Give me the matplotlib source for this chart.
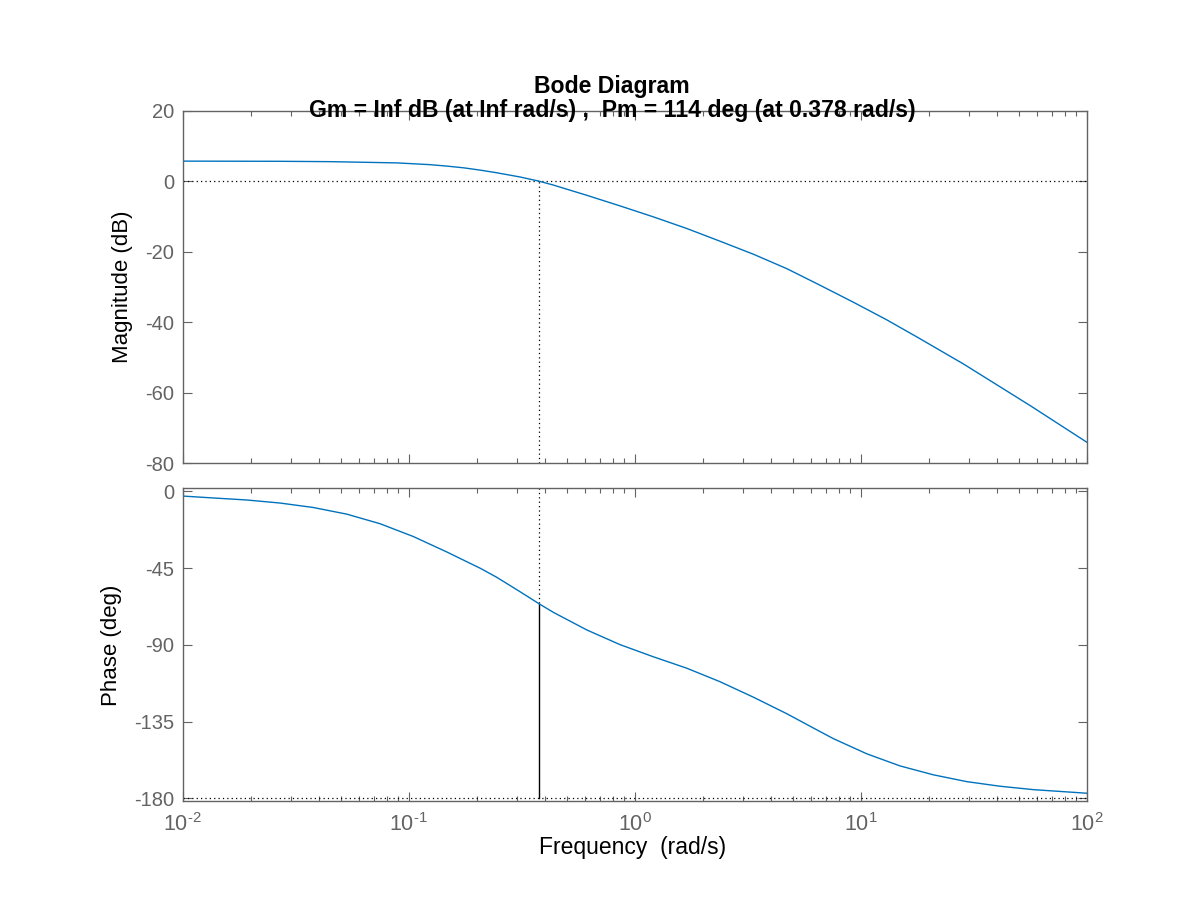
import matplotlib
matplotlib.use('Agg')
import matplotlib.pyplot as plt
from matplotlib.ticker import LogLocator, NullFormatter, FixedLocator

plt.rcParams['font.family'] = ['Liberation Sans', 'DejaVu Sans']
plt.rcParams['mathtext.default'] = 'regular'
plt.rcParams['axes.unicode_minus'] = False

BLUE = '#0072BD'
AXC = '#636363'

# magnitude curve (rad/s, dB)
mag_w = [0.01, 0.027, 0.045, 0.0885, 0.124, 0.147, 0.175, 0.207, 0.245,
         0.311, 0.378, 0.437, 0.614, 0.861, 1.208, 1.698, 2.382, 3.350,
         4.710, 6.607, 9.268, 13.03, 17.99, 28.44, 56.1, 100.0]
mag_db = [5.7, 5.65, 5.55, 5.2, 4.7, 4.3, 3.8, 3.15, 2.4,
          1.2, 0.0, -1.1, -4.0, -7.0, -10.1, -13.4, -17.0, -20.7,
          -24.8, -29.5, -34.3, -39.3, -44.4, -51.8, -63.6, -74.0]

# phase curve (rad/s, deg)
ph_w = [0.01, 0.0136, 0.0192, 0.027, 0.0378, 0.0532, 0.0746, 0.1047, 0.147,
        0.207, 0.245, 0.311, 0.378, 0.437, 0.614, 0.861, 1.208, 1.698,
        2.382, 3.350, 4.710, 6.281, 7.568, 10.64, 14.93, 20.94, 29.44,
        41.30, 58.08, 100.0]
ph_deg = [-2.8, -3.9, -5.1, -6.9, -9.5, -13.4, -19.0, -26.5, -35.5,
          -45.1, -50.4, -58.9, -66.0, -71.0, -81.3, -89.9, -97.0, -103.7,
          -111.6, -120.7, -130.4, -139.3, -145.0, -153.9, -161.0, -166.2, -170.2,
          -172.9, -174.9, -177.0]

wc = 0.378
pm_phase = -66.0
mag_ticks = [-80, -60, -40, -20, 0, 20]
ph_ticks = [-180, -135, -90, -45, 0]
dec_ticks = [0.01, 0.1, 1, 10, 100]
dec_labels = ['$10^{\u20102}$', '$10^{\u20101}$', '$10^{0}$', '$10^{1}$', '$10^{2}$']


def style_ax(ax):
    ax.set_xscale('log')
    ax.set_xlim(0.01, 100)
    for s in ax.spines.values():
        s.set_color(AXC)
        s.set_linewidth(1.0)
    ax.xaxis.set_major_locator(FixedLocator(dec_ticks))
    ax.xaxis.set_minor_locator(LogLocator(base=10, subs=range(2, 10), numticks=20))
    ax.xaxis.set_minor_formatter(NullFormatter())
    ax.tick_params(which='both', direction='in', top=True, right=True,
                   colors=AXC, labelsize=14.5, width=0.8)
    ax.tick_params(which='major', length=6.5, pad=6)
    ax.tick_params(which='minor', length=3.6)


fig = plt.figure(figsize=(12, 9), dpi=100)
ax1 = fig.add_axes([0.1523, 0.4852, 0.7533, 0.3918])
ax2 = fig.add_axes([0.1523, 0.1103, 0.7533, 0.3478])

style_ax(ax1)
ax1.set_ylim(-80, 20)
ax1.set_yticks(mag_ticks)
ax1.set_xticklabels([])
ax1.axhline(0, color='black', ls=(0, (1, 2.5)), lw=0.9)
ax1.plot([wc, wc], [-80, 0], color='black', ls=(0, (1, 2.5)), lw=0.9)
ax1.plot(mag_w, mag_db, color=BLUE, lw=1.0)

style_ax(ax2)
ax2.set_ylim(-181.4, 2.1)
ax2.set_yticks(ph_ticks)
ax2.set_xticks(dec_ticks)
ax2.set_xticklabels(dec_labels)
ax2.tick_params(axis='x', which='major', pad=9, labelsize=15.5)
ax2.axhline(-180, color='black', ls=(0, (1, 2.5)), lw=0.9)
ax2.plot([wc, wc], [2.1, pm_phase], color='black', ls=(0, (1, 2.5)), lw=0.9)
ax2.plot([wc, wc], [pm_phase, -180], color='black', lw=1.0)
ax2.plot(ph_w, ph_deg, color=BLUE, lw=1.0)

fig.text(0.1025, 0.681, 'Magnitude (dB)', rotation=90, ha='center', va='center',
         fontsize=16, color='black')
fig.text(0.0933, 0.283, 'Phase (deg)', rotation=90, ha='center', va='center',
         fontsize=16, color='black')
fig.text(0.5275, 0.058, 'Frequency  (rad/s)', ha='center', va='center',
         fontsize=16.5, color='black')
fig.text(0.51, 0.897, 'Bode Diagram', ha='center', va='baseline',
         fontsize=16.6, fontweight='bold')
fig.text(0.51, 0.870, 'Gm = Inf dB (at Inf rad/s) ,  Pm = 114 deg (at 0.378 rad/s)',
         ha='center', va='baseline', fontsize=16.6, fontweight='bold')

fig.savefig('out.png', dpi=100, facecolor='white')
plt.close(fig)
